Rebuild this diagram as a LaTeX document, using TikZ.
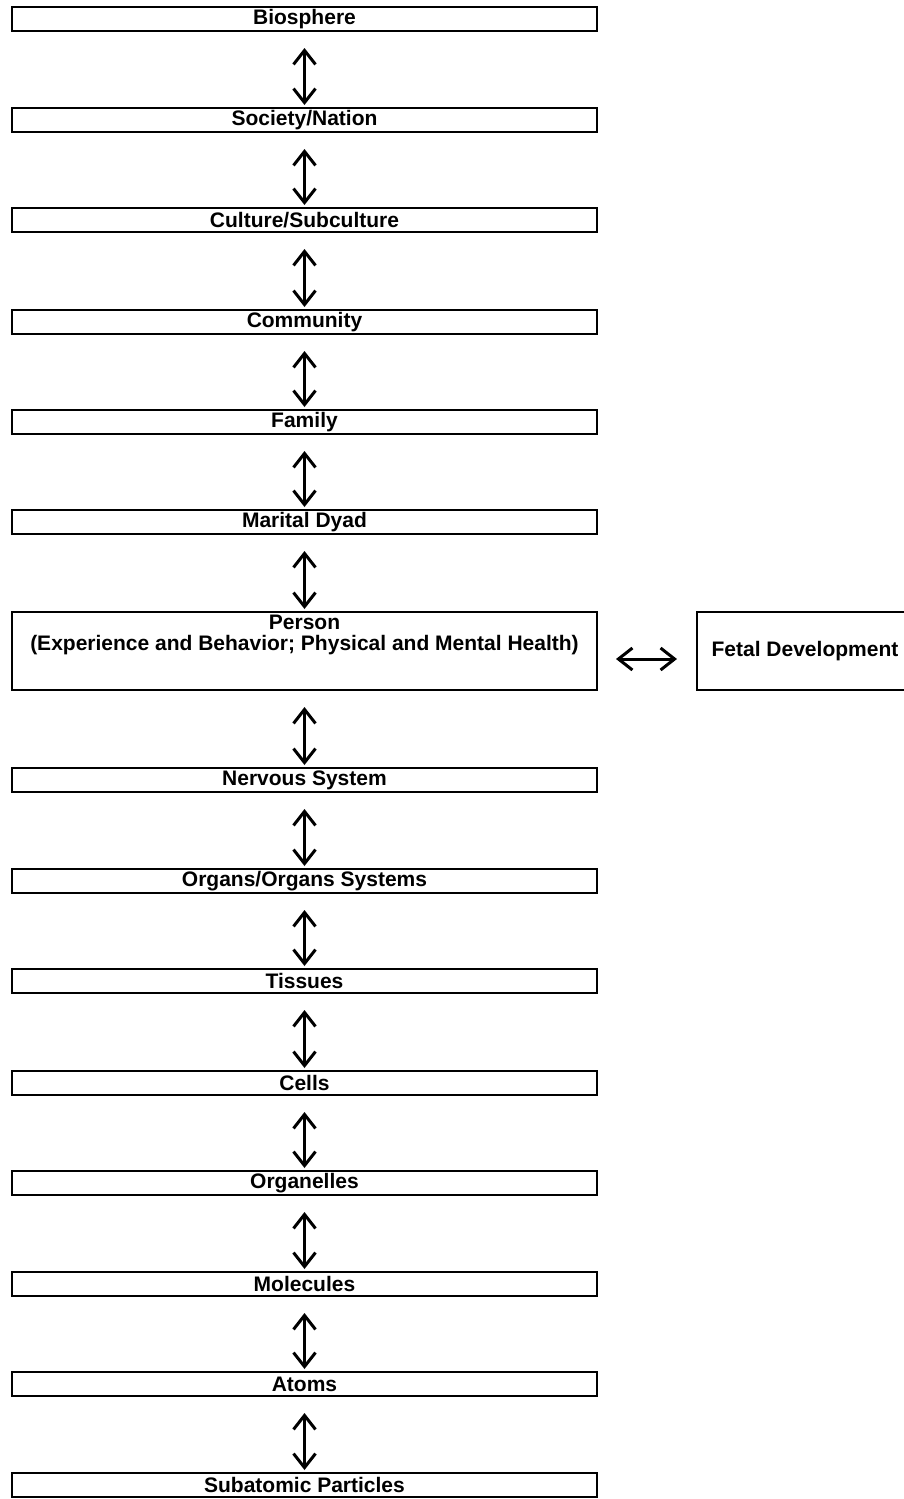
\documentclass[tikz,border=0pt]{standalone}
\usepackage{fontspec}
\setmainfont{Liberation Sans}
\usetikzlibrary{arrows.meta,calc}
\begin{document}
\begin{tikzpicture}[x=1pt,y=1pt,
  lvl/.style={draw, line width=2pt, minimum width=585pt, minimum height=24pt, inner sep=0pt,
    font=\bfseries\fontsize{21}{23}\selectfont},
  arr/.style={line width=3pt, {Straight Barb[length=14pt,width=22pt]}-{Straight Barb[length=14pt,width=22pt]}}]
\useasboundingbox (0,0) rectangle (904,-1499);
\node[lvl] (n1) at (304.5,-19) {Biosphere};
\node[lvl] (n2) at (304.5,-120) {Society/Nation};
\node[lvl] (n3) at (304.5,-220) {Culture/Subculture};
\node[lvl] (n4) at (304.5,-322) {Community};
\node[lvl] (n5) at (304.5,-422) {Family};
\node[lvl] (n6) at (304.5,-522) {Marital Dyad};
\node[lvl, minimum height=78pt] (person) at (304.5,-651) {};
\node[anchor=north, align=center, inner sep=0pt, font=\bfseries\fontsize{21}{21}\selectfont] (persontxt) at (304.5,-615) {Person\\(Experience and Behavior; Physical and Mental Health)};
\node[lvl, minimum width=216pt, minimum height=78pt] (fetal) at (805,-651) {Fetal Development};
\node[lvl] (n8) at (304.5,-780) {Nervous System};
\node[lvl] (n9) at (304.5,-881) {Organs/Organs Systems};
\node[lvl] (n10) at (304.5,-981) {Tissues};
\node[lvl] (n11) at (304.5,-1083) {Cells};
\node[lvl] (n12) at (304.5,-1183) {Organelles};
\node[lvl] (n13) at (304.5,-1284) {Molecules};
\node[lvl] (n14) at (304.5,-1384) {Atoms};
\node[lvl] (n15) at (304.5,-1485) {Subatomic Particles};
\foreach \a/\b in {n1/n2,n2/n3,n3/n4,n4/n5,n5/n6,n6/person,person/n8,n8/n9,n9/n10,n10/n11,n11/n12,n12/n13,n13/n14,n14/n15}
  \draw[arr] ([yshift=-16pt]\a.south) -- ([yshift=2pt]\b.north);
\draw[arr] ($(person.east)+(18,-8)$) -- ($(fetal.west)+(-19,-8)$);
\end{tikzpicture}
\end{document}
